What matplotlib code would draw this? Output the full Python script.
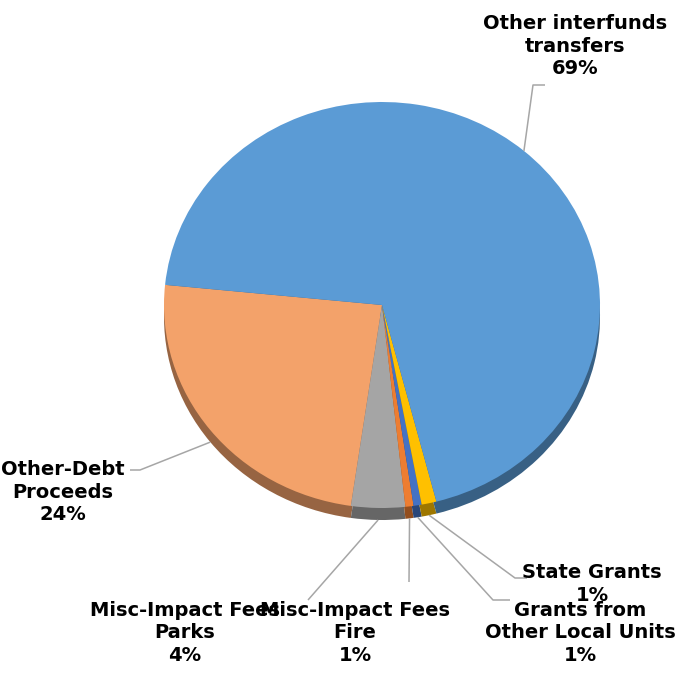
import matplotlib.pyplot as plt
import numpy as np
from matplotlib.colors import to_rgb

# slices, counterclockwise starting from the left edge
names = ["Other-Debt\nProceeds", "Misc-Impact Fees\nParks", "Misc-Impact Fees\nFire",
         "Grants from\nOther Local Units", "State Grants", "Other interfunds\ntransfers"]
shares = [24.3, 4.0, 0.6, 0.6, 1.1, 69.4]
colors = ["#F3A26A", "#A5A5A5", "#ED7D31", "#4472C4", "#FFC000", "#5B9BD5"]

W, H = 675, 673
RX, RY = 218, 203      # pie radii in pixels (slightly tilted)
DEPTH = 12             # thickness of the 3d rim in pixels
START = 174.3


def px(x, y):
    # pixel position -> data coords
    return x / RX, (H - y) / RY


def darker(c, f=0.62):
    r, g, b = to_rgb(c)
    return (r * f, g * f, b * f)


fig = plt.figure(figsize=(W / 100, H / 100), dpi=100)
ax = fig.add_axes([0, 0, 1, 1])
cx, cy = px(382, 305)

# rim first, then the top face
ax.pie(shares, colors=[darker(c) for c in colors], startangle=START,
       counterclock=True, center=(cx, cy - DEPTH / RY), radius=1,
       wedgeprops=dict(linewidth=0))
wedges, _ = ax.pie(shares, colors=colors, startangle=START, counterclock=True,
                   center=(cx, cy), radius=1, wedgeprops=dict(linewidth=0))

ax.set_aspect("auto")
ax.set_xlim(0, W / RX)
ax.set_ylim(0, H / RY)
ax.axis("off")

# label centre (middle line) and leader line points, in pixels
label_pos = [(63, 492), (185, 633), (355, 633), (580, 633), (592, 584), (575, 46)]
leader = [
    [(140, 470), (130, 470)],
    [(308, 600)],
    [(409, 582)],
    [(493, 600), (510, 600)],
    [(515, 578), (527, 578)],
    [(533, 85), (545, 85)],
]

for w, name, v, (lx, ly), pts in zip(wedges, names, shares, label_pos, leader):
    mid = np.deg2rad((w.theta1 + w.theta2) / 2)
    sx, sy = cx + np.cos(mid), cy + np.sin(mid)
    if np.sin(mid) < 0:
        sy -= DEPTH / RY
    xs = [sx] + [px(*p)[0] for p in pts]
    ys = [sy] + [px(*p)[1] for p in pts]
    ax.plot(xs, ys, color="#A6A6A6", lw=1.1, solid_capstyle="butt", zorder=3)
    tx, ty = px(lx, ly)
    ax.text(tx, ty, f"{name}\n{round(v)}%", ha="center", va="center",
            fontsize=14, fontweight="bold", family="DejaVu Sans",
            linespacing=1.25, color="black", zorder=4)

fig.savefig("out.png", dpi=100)
